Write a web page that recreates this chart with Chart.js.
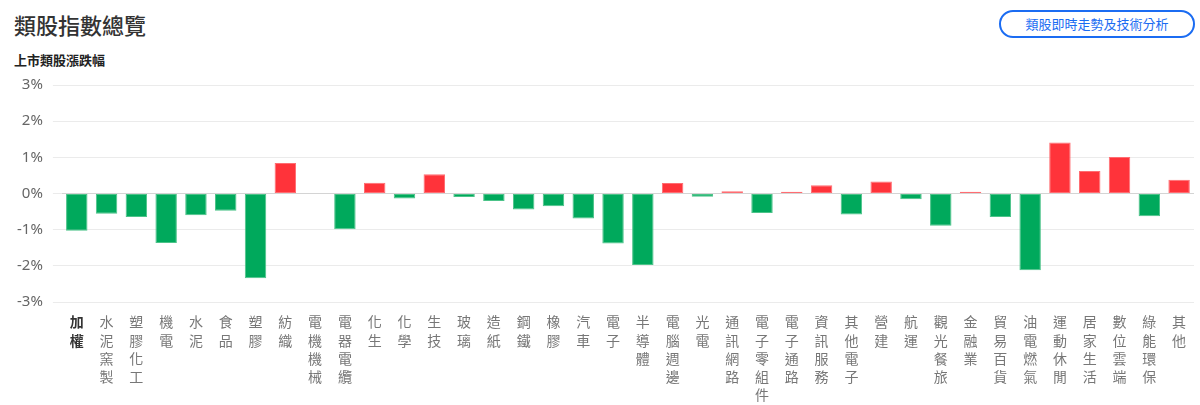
<!DOCTYPE html>
<html>
<head>
<meta charset="utf-8">
<script src="https://cdn.jsdelivr.net/npm/chart.js@4"></script>
<style>
    body { margin: 0; background: #fff; font-family: "Noto Sans CJK TC", "Noto Sans", sans-serif; }
    .wrap { position: relative; width: 1200px; height: 405px; overflow: hidden; }
    h1 { position: absolute; left: 14px; top: 8px; margin: 0; font-size: 22px; font-weight: 500; color: #333; line-height: 32px; }
    .sub { position: absolute; left: 14px; top: 50px; font-size: 13px; font-weight: bold; color: #222; line-height: 20px; }
    .btn { position: absolute; left: 999px; top: 10px; width: 192px; height: 24px; border: 2px solid #1b6cf2; border-radius: 16px;
           color: #1b6cf2; font-size: 13px; line-height: 24px; text-align: center; }
    .chart { position: absolute; left: 0; top: 66px; width: 1200px; height: 349px; }
</style>
</head>
<body>
<div class="wrap">
    <h1>類股指數總覽</h1>
    <div class="sub">上市類股漲跌幅</div>
    <div class="btn">類股即時走勢及技術分析</div>
    <div class="chart"><canvas id="sectorChart"></canvas></div>
</div>
<script>
// Sector names (drawn one character per line)
const sectors = [
    '加權', '水泥窯製', '塑膠化工', '機電', '水泥', '食品', '塑膠', '紡織', '電機機械', '電器電纜',
    '化生', '化學', '生技', '玻璃', '造紙', '鋼鐵', '橡膠', '汽車', '電子', '半導體',
    '電腦週邊', '光電', '通訊網路', '電子零組件', '電子通路', '資訊服務', '其他電子', '營建', '航運', '觀光餐旅',
    '金融業', '貿易百貨', '油電燃氣', '運動休閒', '居家生活', '數位雲端', '綠能環保', '其他'
];

// Change in percent
const changes = [
    -1.03, -0.56, -0.65, -1.37, -0.60, -0.48, -2.34, 0.84, 0.00, -0.99,
    0.30, -0.14, 0.53, -0.10, -0.21, -0.44, -0.35, -0.69, -1.38, -1.98,
    0.29, -0.09, 0.06, -0.54, 0.05, 0.23, -0.58, 0.33, -0.16, -0.89,
    0.05, -0.65, -2.12, 1.41, 0.62, 1.01, -0.63, 0.38
];

const yTicks = [-3, -2, -1, 0, 1, 2, 3];

const UP = '#ff333a';
const DOWN = '#00a95c';

const ctx = document.getElementById('sectorChart').getContext('2d');
new Chart(ctx, {
    type: 'bar',
    data: {
        labels: sectors.map(s => s.split('')),
        datasets: [{
            data: changes,
            backgroundColor: changes.map(v => v >= 0 ? UP : DOWN),
            borderColor: changes.map(v => v >= 0 ? '#ff6d72' : '#4cc389'),
            borderWidth: 1,
            borderSkipped: false
        }]
    },
    options: {
        responsive: true,
        maintainAspectRatio: false,
        animation: false,
        events: [],
        plugins: {
            legend: { display: false },
            tooltip: { enabled: false }
        },
        layout: { padding: { left: 7, right: 6, bottom: 0 } },
        scales: {
            x: {
                grid: { display: false, drawTicks: false },
                border: { display: false },
                ticks: {
                    autoSkip: false,
                    maxRotation: 0,
                    padding: 11,
                    color: c => c.index === 0 ? '#333' : '#777',
                    font: c => ({
                        family: '"Noto Sans CJK TC", sans-serif',
                        size: 14,
                        lineHeight: 1.3,
                        weight: c.index === 0 ? 'bold' : 'normal'
                    })
                }
            },
            y: {
                min: yTicks[0],
                max: yTicks[yTicks.length - 1],
                afterBuildTicks: axis => { axis.ticks = yTicks.map(v => ({ value: v })); },
                grid: {
                    color: c => c.tick && c.tick.value === 0 ? '#d4d4d4' : '#ebebeb',
                    tickLength: 9,
                    tickColor: '#ebebeb'
                },
                border: { display: false },
                ticks: {
                    padding: 10,
                    color: '#666',
                    font: { family: '"Noto Sans", sans-serif', size: 15 },
                    callback: v => v + '%'
                }
            }
        }
    }
});
</script>
</body>
</html>
